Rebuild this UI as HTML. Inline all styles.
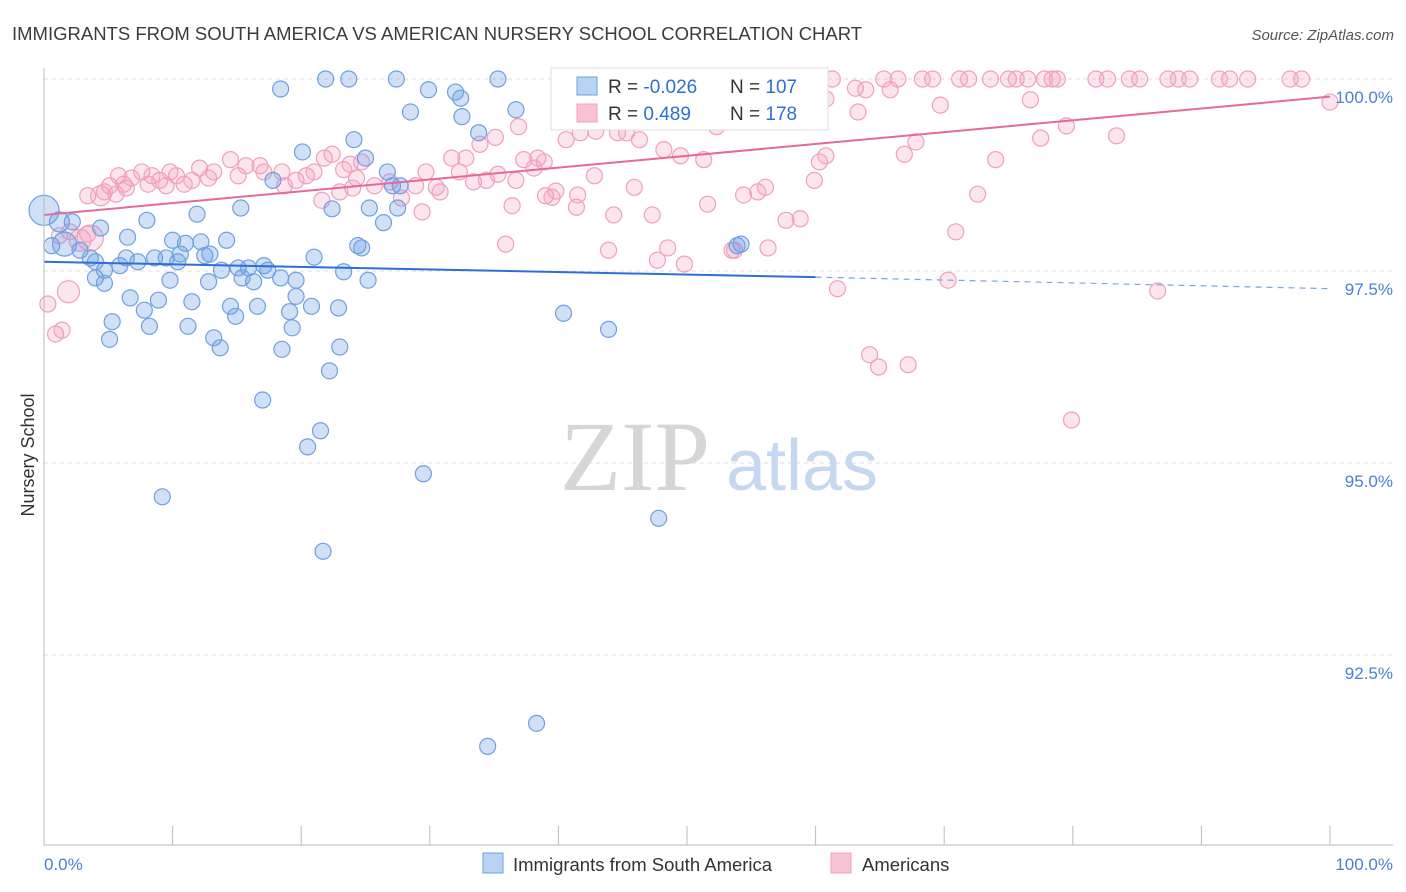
<!DOCTYPE html>
<html><head><meta charset="utf-8">
<style>
body{margin:0;background:#fff;font-family:"Liberation Sans",sans-serif;}
svg{display:block}
</style></head>
<body>
<svg id="chart" width="1406" height="892" viewBox="0 0 1406 892">
<text x="12" y="40" font-size="18.5" fill="#3c3c3c">IMMIGRANTS FROM SOUTH AMERICA VS AMERICAN NURSERY SCHOOL CORRELATION CHART</text>
<text x="1394" y="40" font-size="15" fill="#555" font-style="italic" text-anchor="end">Source: ZipAtlas.com</text>
<g id="grid"></g>
<text x="635" y="490" font-size="100" font-family="Liberation Serif,serif" fill="#d6d6d6" text-anchor="middle">ZIP</text>
<text x="802" y="490" font-size="72" fill="#c5d8f0" text-anchor="middle">atlas</text>
<g id="pts"></g>
<g id="axes"></g>
<text x="34" y="455" font-size="18" fill="#333" text-anchor="middle" transform="rotate(-90 34 455)">Nursery School</text>
<g>
<rect x="551" y="68" width="277" height="62" fill="#fff" stroke="#ddd"/>
<rect x="577" y="77" width="20" height="18" fill="#b9d3f3" stroke="#6fa0e0"/>
<rect x="577" y="104" width="20" height="18" fill="#f8c4d4" stroke="#f0a0bc"/>
<text x="608" y="93" font-size="19" fill="#333">R = <tspan fill="#2d6fd6">-0.026</tspan></text>
<text x="730" y="93" font-size="19" fill="#333">N = <tspan fill="#2d6fd6">107</tspan></text>
<text x="608" y="120" font-size="19" fill="#333">R = <tspan fill="#2d6fd6"> 0.489</tspan></text>
<text x="730" y="120" font-size="19" fill="#333">N = <tspan fill="#2d6fd6">178</tspan></text>
</g>
<g>
<rect x="483" y="853" width="20" height="20" fill="#b9d3f3" stroke="#6fa0e0"/>
<text x="513" y="871" font-size="18.5" fill="#333">Immigrants from South America</text>
<rect x="831" y="853" width="20" height="20" fill="#f8c4d4" stroke="#f0a0bc"/>
<text x="862" y="871" font-size="18.5" fill="#333">Americans</text>
</g>
</svg>
<script>
const yTicks=[100,97.5,95,92.5];
const yTickLabels=["100.0%","97.5%","95.0%","92.5%"];
const blueX=[18.4,21.9,23.7,27.4,35.3,29.9,32.0,32.4,28.5,32.5,36.7,33.8,24.1,20.1,25.0,26.7,17.8,27.7,27.1,15.3,22.4,25.3,27.5,26.4,11.9,8.0,0.0,1.2,2.2,4.4,6.5,10.0,11.0,12.2,14.2,24.4,24.7,21.0,1.6,2.8,3.6,4.0,4.7,5.9,6.4,7.3,8.6,9.5,10.6,10.4,12.9,12.5,13.8,15.1,15.9,17.1,17.4,15.4,16.3,18.4,19.6,23.3,25.2,4.0,4.7,9.8,12.8,6.7,8.9,11.5,14.5,16.6,19.6,20.8,22.9,7.8,14.9,19.1,5.3,8.2,11.2,19.3,13.2,5.1,13.7,18.5,23.0,40.4,43.9,22.2,17.0,21.5,20.5,29.5,9.2,47.8,21.7,38.3,34.5,54.2,53.9,0.6];
const blueY=[99.87,100,100,100,100,99.86,99.83,99.75,99.57,99.51,99.60,99.30,99.21,99.05,98.97,98.79,98.68,98.61,98.61,98.32,98.31,98.32,98.32,98.13,98.24,98.16,98.29,98.14,98.14,98.06,97.94,97.90,97.86,97.88,97.90,97.83,97.80,97.68,97.85,97.77,97.67,97.62,97.51,97.57,97.67,97.62,97.67,97.67,97.72,97.62,97.72,97.70,97.51,97.54,97.54,97.57,97.51,97.41,97.36,97.41,97.38,97.49,97.38,97.41,97.34,97.38,97.36,97.15,97.12,97.10,97.04,97.04,97.17,97.04,97.02,96.99,96.91,96.97,96.84,96.78,96.78,96.76,96.63,96.61,96.50,96.48,96.51,96.95,96.74,96.20,95.82,95.42,95.21,94.86,94.56,94.28,93.85,91.61,91.31,97.85,97.83,97.83];
const pinkX=[59.1,61.3,65.3,66.4,68.3,69.1,71.2,71.9,73.6,75.0,75.6,76.5,77.8,78.4,78.8,81.8,82.7,84.4,85.2,87.4,88.2,89.1,91.4,92.2,93.6,96.9,97.8,63.1,63.9,65.8,60.8,69.7,76.7,100,63.3,52.3,79.5,83.4,77.5,67.8,66.9,74.0,60.8,60.3,48.2,49.5,51.3,42.9,41.7,44.6,45.3,47.1,40.6,46.3,36.9,35.1,33.9,32.8,31.7,38.4,37.3,38.9,38.1,59.9,56.1,55.5,54.4,51.6,45.9,42.8,41.5,39.8,39.5,41.4,44.3,47.3,36.4,29.4,27.8,72.6,58.8,70.9,43.9,48.5,47.7,49.8,53.5,61.7,70.3,86.6,64.2,64.9,67.2,79.9,35.9,29.7,30.8,30.5,32.3,33.4,34.4,28.9,26.9,25.7,24.3,23.0,23.3,23.8,22.4,21.8,21.0,20.4,19.6,18.5,18.7,17.1,16.8,15.7,15.1,14.5,13.2,12.8,12.1,11.5,10.9,10.3,9.8,9.0,8.4,7.6,6.8,6.2,5.8,5.1,4.7,4.4,5.6,6.4,8.1,9.5,3.4,2.8,3.4,1.2,2.0,3.6,1.9,1.4,0.9,0.3,24.7,24.0,21.6,39.0,35.3,36.7,56.3,53.7,57.7];
const pinkY=[100,100,100,100,100,100,100,100,100,100,100,100,100,100,100,100,100,100,100,100,100,100,100,100,100,100,100,99.88,99.86,99.86,99.74,99.66,99.73,99.70,99.57,99.38,99.39,99.26,99.23,99.18,99.02,98.95,99.00,98.92,99.08,99.00,98.95,99.32,99.30,99.30,99.30,99.47,99.21,99.21,99.38,99.24,99.15,98.97,98.97,98.97,98.95,98.92,98.84,98.68,98.59,98.53,98.49,98.37,98.59,98.74,98.49,98.54,98.46,98.33,98.23,98.23,98.35,98.27,98.45,98.50,98.18,98.01,97.77,97.80,97.64,97.59,97.77,97.27,97.38,97.24,96.41,96.25,96.28,95.56,97.85,98.79,98.53,98.59,98.79,98.66,98.68,98.61,98.66,98.61,98.71,98.53,98.82,98.89,99.02,98.97,98.79,98.74,98.68,98.79,98.61,98.79,98.87,98.87,98.74,98.95,98.79,98.71,98.84,98.68,98.63,98.74,98.79,98.68,98.74,98.79,98.71,98.63,98.74,98.61,98.53,98.48,98.50,98.58,98.63,98.61,98.48,97.90,97.98,97.96,98.01,97.93,97.23,96.73,96.68,97.07,98.92,98.58,98.42,98.48,98.76,98.68,97.80,97.77,98.16];
const blueBig=[[0.0,98.29,15],[1.6,97.85,12],[1.2,98.14,10]];
const pinkBig=[[3.6,97.93,13],[1.9,97.23,11],[2.8,97.90,11],[4.4,98.48,10]];
const blueTrend=[[0,97.62],[60,97.42]], blueTrendExt=[[60,97.42],[100,97.27]];
const pinkTrend=[[0,98.23],[100,99.77]];

const X=v=>44+v*12.86, Y=v=>79+(100-v)*76.8;
const NS="http://www.w3.org/2000/svg";
function mk(tag,attrs,parent){const e=document.createElementNS(NS,tag);for(const k in attrs)e.setAttribute(k,attrs[k]);parent.appendChild(e);return e;}
const grid=document.getElementById('grid'), axes=document.getElementById('axes'), pts=document.getElementById('pts');
yTicks.forEach((t,i)=>{
  const l=mk('line',{x1:44,x2:1393,y1:Y(t),y2:Y(t),stroke:'#ddd','stroke-dasharray':'4,4'},grid);
  
  
  const tx=mk('text',{x:1393,y:Y(t)+24,'font-size':17,fill:'#4a7fd6','text-anchor':'end'},axes);
  tx.textContent=yTickLabels[i];
  
  
});
mk('line',{x1:44,x2:44,y1:68,y2:845,stroke:'#bbb'},axes);
mk('line',{x1:44,x2:1393,y1:845,y2:845,stroke:'#bbb'},axes);
for(let i=0;i<=10;i++){const tk=mk('line',{x1:X(i*10),x2:X(i*10),y1:826,y2:845,stroke:'#bbb'},axes);
  
  }
const x0=mk('text',{x:44,y:870,'font-size':17,fill:'#4a7fd6'},axes);x0.textContent='0.0%';


const x1=mk('text',{x:1393,y:870,'font-size':17,fill:'#4a7fd6','text-anchor':'end'},axes);x1.textContent='100.0%';


function sizeFor(big,x,y){for(const b of big)if(b[0]===x&&b[1]===y)return b[2];return 8;}
pinkX.forEach((x,i)=>{const c=mk('circle',{cx:X(x),cy:Y(pinkY[i]),r:sizeFor(pinkBig,x,pinkY[i]),fill:'rgba(244,160,190,0.28)',stroke:'#f0a0bc','stroke-width':1.2},pts);
  
  });
blueX.forEach((x,i)=>{const c=mk('circle',{cx:X(x),cy:Y(blueY[i]),r:sizeFor(blueBig,x,blueY[i]),fill:'rgba(110,160,230,0.32)',stroke:'#6fa0e0','stroke-width':1.2},pts);
  
  });
const bt=mk('line',{x1:X(blueTrend[0][0]),y1:Y(blueTrend[0][1]),x2:X(blueTrend[1][0]),y2:Y(blueTrend[1][1]),stroke:'#2d6fd6','stroke-width':2},pts);


const be=mk('line',{x1:X(blueTrendExt[0][0]),y1:Y(blueTrendExt[0][1]),x2:X(blueTrendExt[1][0]),y2:Y(blueTrendExt[1][1]),stroke:'#7aa6e6','stroke-width':1.2,'stroke-dasharray':'6,5'},pts);


const pt=mk('line',{x1:X(pinkTrend[0][0]),y1:Y(pinkTrend[0][1]),x2:X(pinkTrend[1][0]),y2:Y(pinkTrend[1][1]),stroke:'#e8689a','stroke-width':2},pts);


</script>
</body></html>
